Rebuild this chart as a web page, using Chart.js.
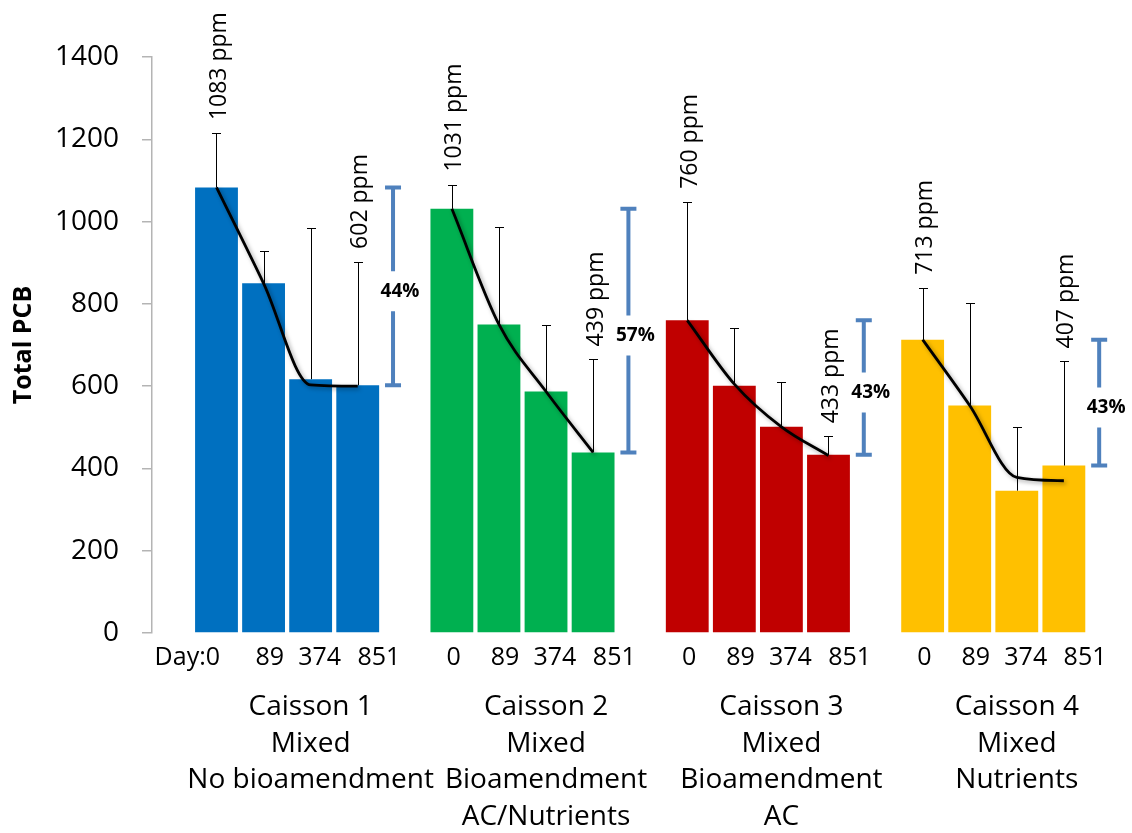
<!DOCTYPE html>
<html lang="en">
<head>
<meta charset="UTF-8">
<title>Total PCB by caisson</title>
<script src="https://cdn.jsdelivr.net/npm/chart.js"></script>
<style>
  html, body { margin: 0; padding: 0; background: #fff; }
  #wrap { width: 1132px; height: 833px; position: relative; }
</style>
</head>
<body>
<div id="wrap"><canvas id="pcbChart"></canvas></div>
<script>
// sampling days and caisson descriptions
const days = ['0', '89', '374', '851'];
const caissonText = [
  ['Caisson 1', 'Mixed', 'No bioamendment'],
  ['Caisson 2', 'Mixed', 'Bioamendment', 'AC/Nutrients'],
  ['Caisson 3', 'Mixed', 'Bioamendment', 'AC'],
  ['Caisson 4', 'Mixed', 'Nutrients']
];
const caissonColors = ['#0070c0', '#00b050', '#c00000', '#ffc000'];

// mean total PCB (ppm) per caisson, days 0 / 89 / 374 / 851
const meanC1 = [1083, 850, 617, 602];
const meanC2 = [1031, 750, 587, 439];
const meanC3 = [760, 601, 501, 433];
const meanC4 = [713, 553, 346, 407];

// upper end of the error bars
const errC1 = [1215, 929, 984, 902];
const errC2 = [1090, 988, 749, 665];
const errC3 = [1048, 741, 611, 478];
const errC4 = [839, 801, 501, 660];

// trend lines drawn over the bars
const trendC1 = [1083, 850, 603, 600];
const trendC2 = [1031, 750, 587, 439];
const trendC3 = [760, 605, 501, 431];
const trendC4 = [713, 553, 378, 370];

const reduction = ['44%', '57%', '43%', '43%'];
const yTicks = [0, 200, 400, 600, 800, 1000, 1200, 1400];

const means = [meanC1, meanC2, meanC3, meanC4];
const errs = [errC1, errC2, errC3, errC4];
const trends = [trendC1, trendC2, trendC3, trendC4];

// each caisson takes 4 slots on the x axis plus one empty slot
const slotOf = (g, d) => g * 5 + d;
// day labels sit a little right of their bars, like in the original
const labelShift = [0.04, 0.13, 0.19, 0.45];

const barPoints = [];
const barColors = [];
const tickSlots = [];
const tickLabels = [];
means.forEach((vals, g) => {
  vals.forEach((v, d) => {
    barPoints.push({ x: slotOf(g, d), y: v });
    barColors.push(caissonColors[g]);
    tickSlots.push(slotOf(g, d) + (g === 0 && d === 0 ? -0.62 : labelShift[d]));
    tickLabels.push(g === 0 && d === 0 ? 'Day:' + days[d] : days[d]);
  });
});

const lineSets = trends.map((vals, g) => ({
  type: 'line',
  data: vals.map((v, d) => ({ x: slotOf(g, d), y: v })),
  borderColor: '#000',
  borderWidth: 2.8,
  pointRadius: 0,
  cubicInterpolationMode: 'monotone',
  fill: false,
  order: 1
}));

const extras = {
  id: 'extras',
  beforeDatasetDraw(chart, args) {
    if (args.meta.type === 'line') {
      const ctx = chart.ctx;
      ctx.save();
      ctx.shadowColor = 'rgba(0,0,0,0.35)';
      ctx.shadowBlur = 4;
      ctx.shadowOffsetX = 2;
      ctx.shadowOffsetY = 2;
    }
  },
  afterDatasetDraw(chart, args) {
    const ctx = chart.ctx;
    if (args.meta.type === 'line') { ctx.restore(); return; }
    // error bars, just after the bars
    const x = chart.scales.x, y = chart.scales.y;
    ctx.save();
    ctx.strokeStyle = '#000';
    ctx.lineWidth = 1;
    errs.forEach((vals, g) => {
      vals.forEach((e, d) => {
        const px = Math.round(x.getPixelForValue(slotOf(g, d))) + 0.5;
        const top = Math.round(y.getPixelForValue(e)) + 0.5;
        const base = y.getPixelForValue(means[g][d]);
        ctx.beginPath();
        ctx.moveTo(px, base);
        ctx.lineTo(px, top);
        ctx.moveTo(px - 4.5, top);
        ctx.lineTo(px + 4.5, top);
        ctx.stroke();
      });
    });
    ctx.restore();
  },
  afterDatasetsDraw(chart) {
    const ctx = chart.ctx;
    const x = chart.scales.x, y = chart.scales.y;
    ctx.save();
    // rotated ppm labels over first and last bar of each caisson
    ctx.fillStyle = '#000';
    ctx.font = '23px "Open Sans"';
    ctx.textAlign = 'left';
    ctx.textBaseline = 'middle';
    means.forEach((vals, g) => {
      [0, 3].forEach(d => {
        const px = x.getPixelForValue(slotOf(g, d)) + 3;
        const py = y.getPixelForValue(errs[g][d]) - 13;
        ctx.save();
        ctx.translate(px, py);
        ctx.rotate(-Math.PI / 2);
        ctx.fillText(vals[d] + ' ppm', 0, 0);
        ctx.restore();
      });
    });
    // blue reduction brackets
    ctx.strokeStyle = '#4f81bd';
    ctx.lineWidth = 4;
    ctx.font = 'bold 19px "Open Sans"';
    ctx.textAlign = 'center';
    means.forEach((vals, g) => {
      const bx = x.getPixelForValue(slotOf(g, 3) + 0.75);
      const top = y.getPixelForValue(vals[0]);
      const bot = y.getPixelForValue(vals[3]);
      const mid = (top + bot) / 2 + 5;
      ctx.beginPath();
      ctx.moveTo(bx - 8, top); ctx.lineTo(bx + 8, top);
      ctx.moveTo(bx, top); ctx.lineTo(bx, mid - 20);
      ctx.moveTo(bx, mid + 20); ctx.lineTo(bx, bot);
      ctx.moveTo(bx - 8, bot); ctx.lineTo(bx + 8, bot);
      ctx.stroke();
      ctx.fillStyle = '#000';
      ctx.fillText(reduction[g], bx + 7, mid);
    });
    // caisson descriptions below the day labels
    ctx.font = '28px "Open Sans"';
    ctx.textAlign = 'center';
    caissonText.forEach((lines, g) => {
      const cx = x.getPixelForValue(slotOf(g, 2));
      lines.forEach((t, i) => ctx.fillText(t, cx, 707 + i * 36.7));
    });
    ctx.restore();
  }
};

new Chart(document.getElementById('pcbChart'), {
  type: 'bar',
  data: {
    datasets: [
      {
        type: 'bar',
        data: barPoints,
        backgroundColor: barColors,
        borderWidth: 0,
        barPercentage: 0.91,
        categoryPercentage: 1,
        order: 2
      },
      ...lineSets
    ]
  },
  options: {
    responsive: true,
    maintainAspectRatio: false,
    animation: false,
    layout: { padding: { top: 57, right: 22, left: 0, bottom: 0 } },
    plugins: { legend: { display: false }, tooltip: { enabled: false } },
    scales: {
      x: {
        type: 'linear',
        offset: false,
        min: -1.37,
        max: 18.98,
        afterBuildTicks: s => { s.ticks = tickSlots.map(v => ({ value: v })); },
        afterFit: s => { s.height = 200; },
        grid: { display: false, drawTicks: false },
        border: { display: false },
        ticks: {
          autoSkip: false,
          maxRotation: 0,
          minRotation: 0,
          padding: 10,
          color: '#000',
          font: { family: 'Open Sans', size: 25 },
          callback: (v, i) => tickLabels[i]
        }
      },
      y: {
        min: 0,
        max: 1400,
        afterBuildTicks: s => { s.ticks = yTicks.map(v => ({ value: v })); },
        afterFit: s => { s.width = 152; },
        grid: { drawOnChartArea: false, drawTicks: true, tickLength: 10, color: '#b4b4b4', lineWidth: 1.5 },
        border: { display: true, color: '#b4b4b4', width: 1.5 },
        ticks: {
          padding: 23,
          color: '#000',
          font: { family: 'Open Sans', size: 28 },
          callback: v => String(v)
        },
        title: {
          display: true,
          text: 'Total PCB',
          color: '#000',
          font: { family: 'Open Sans', size: 25, weight: 'bold' },
          padding: { top: 9, bottom: 0 }
        }
      }
    }
  },
  plugins: [extras]
});
</script>
</body>
</html>
